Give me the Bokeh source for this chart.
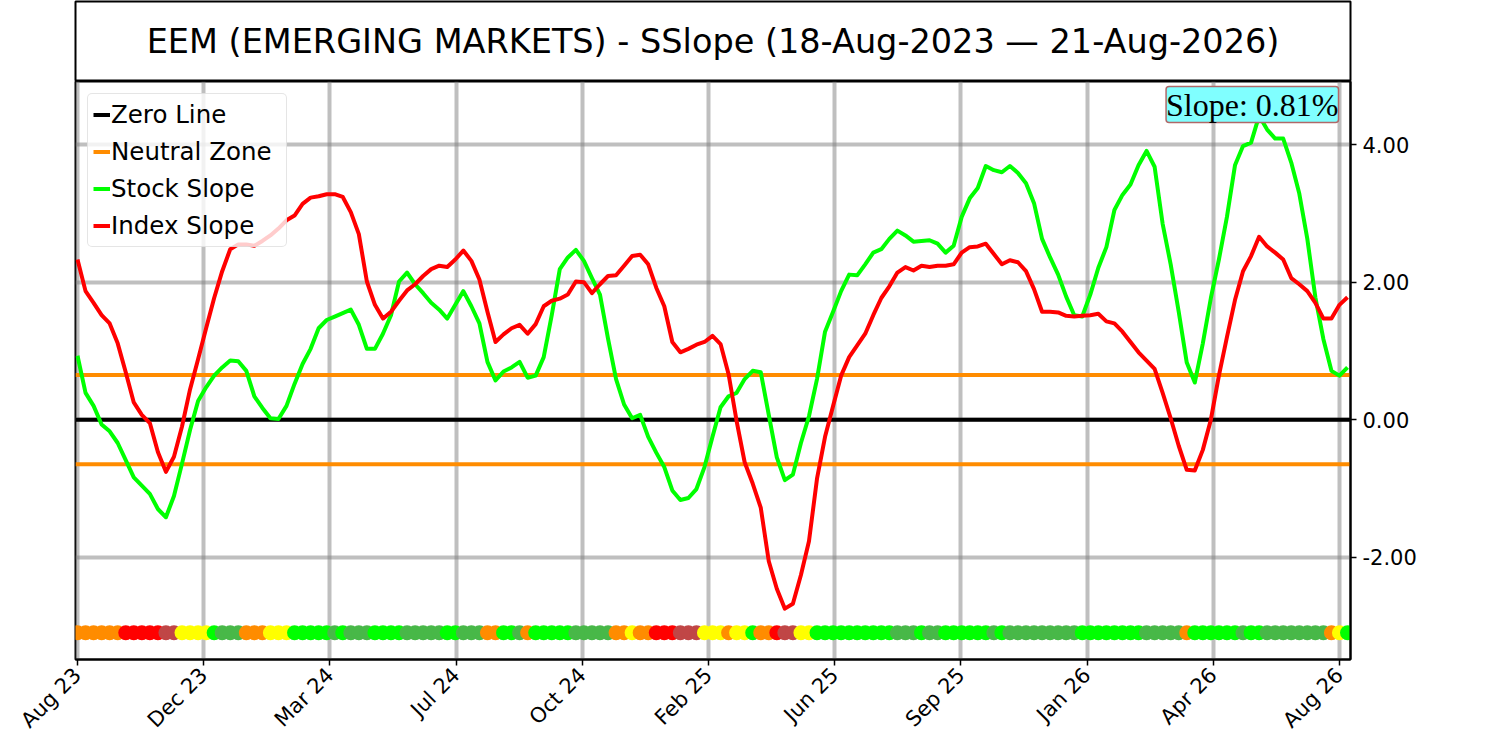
import numpy as np
import pandas as pd
from bokeh.plotting import figure
from bokeh.layouts import column
from bokeh.models import (Range1d, FixedTicker, PrintfTickFormatter,
                          Label, Legend, LegendItem, ColumnDataSource)
from bokeh.embed import file_html
from bokeh.resources import INLINE
import math

# ---------------- data ----------------
TITLE = "EEM (EMERGING MARKETS) - SSlope (18-Aug-2023 \u2014 21-Aug-2026)"
START_DATE = "2023-08-18"
LAST_LABEL_DATE = "2026-08-21"
XTICK_LABELS = ["Aug 23", "Dec 23", "Mar 24", "Jul 24", "Oct 24", "Feb 25",
                "Jun 25", "Sep 25", "Jan 26", "Apr 26", "Aug 26"]
Y_TICKS = [-2.0, 0.0, 2.0, 4.0]
ZERO_LEVEL = 0.0
NEUTRAL_LEVEL = 0.65
SIGNAL_LEVEL = -3.1
SLOPE_TEXT = "Slope: 0.81%"

index_slope = [
    2.33, 1.87, 1.70, 1.52, 1.40, 1.11, 0.69, 0.25, 0.07, -0.05,
    -0.47, -0.76, -0.54, -0.10, 0.44, 0.88, 1.33, 1.77, 2.16, 2.48,
    2.55, 2.55, 2.53, 2.60, 2.68, 2.78, 2.90, 2.97, 3.14, 3.23,
    3.25, 3.28, 3.28, 3.24, 3.02, 2.70, 2.01, 1.67, 1.47, 1.57,
    1.73, 1.88, 1.97, 2.09, 2.19, 2.24, 2.22, 2.33, 2.46, 2.31,
    2.04, 1.57, 1.13, 1.24, 1.33, 1.38, 1.25, 1.39, 1.65, 1.73,
    1.76, 1.82, 2.01, 2.00, 1.84, 1.97, 2.09, 2.10, 2.24, 2.38,
    2.40, 2.26, 1.92, 1.65, 1.13, 0.98, 1.03, 1.09, 1.13, 1.22,
    1.10, 0.66, -0.02, -0.62, -0.93, -1.28, -2.06, -2.46, -2.75, -2.68,
    -2.26, -1.77, -0.86, -0.25, 0.20, 0.64, 0.91, 1.08, 1.25, 1.52,
    1.77, 1.94, 2.14, 2.22, 2.17, 2.24, 2.22, 2.24, 2.24, 2.26,
    2.43, 2.51, 2.52, 2.56, 2.41, 2.26, 2.32, 2.29, 2.16, 1.90,
    1.57, 1.57, 1.56, 1.51, 1.50, 1.51, 1.52, 1.54, 1.43, 1.40,
    1.28, 1.13, 0.98, 0.86, 0.74, 0.39, 0.02, -0.38, -0.73, -0.74,
    -0.44, 0.00, 0.64, 1.20, 1.74, 2.16, 2.38, 2.66, 2.52, 2.43,
    2.33, 2.06, 1.97, 1.87, 1.70, 1.47, 1.47, 1.67, 1.78,
]

stock_slope = [
    0.93, 0.39, 0.20, -0.07, -0.17, -0.34, -0.59, -0.84, -0.96, -1.08,
    -1.30, -1.42, -1.11, -0.64, -0.15, 0.27, 0.47, 0.64, 0.76, 0.86,
    0.85, 0.71, 0.34, 0.17, 0.02, 0.01, 0.20, 0.52, 0.81, 1.03,
    1.33, 1.45, 1.50, 1.55, 1.60, 1.38, 1.03, 1.03, 1.25, 1.52,
    2.01, 2.14, 1.97, 1.84, 1.70, 1.60, 1.47, 1.67, 1.87, 1.65,
    1.40, 0.84, 0.57, 0.70, 0.76, 0.84, 0.61, 0.64, 0.91, 1.52,
    2.19, 2.36, 2.47, 2.31, 2.06, 1.82, 1.18, 0.59, 0.22, 0.02,
    0.07, -0.25, -0.48, -0.69, -1.03, -1.17, -1.14, -1.01, -0.69, -0.25,
    0.18, 0.34, 0.39, 0.59, 0.71, 0.69, 0.07, -0.55, -0.88, -0.80,
    -0.34, 0.05, 0.59, 1.28, 1.57, 1.87, 2.11, 2.10, 2.26, 2.43,
    2.48, 2.63, 2.75, 2.68, 2.59, 2.60, 2.61, 2.56, 2.43, 2.53,
    2.95, 3.22, 3.37, 3.69, 3.63, 3.60, 3.69, 3.59, 3.44, 3.15,
    2.63, 2.36, 2.11, 1.79, 1.52, 1.50, 1.82, 2.21, 2.51, 3.05,
    3.27, 3.42, 3.70, 3.91, 3.68, 2.85, 2.26, 1.57, 0.83, 0.54,
    1.11, 1.77, 2.33, 2.95, 3.70, 3.98, 4.03, 4.42, 4.22, 4.09,
    4.09, 3.74, 3.29, 2.63, 1.78, 1.17, 0.71, 0.64, 0.76,
]

# O=orange, R=red, D=dark red, Y=yellow, G=bright green, K=dark green
signal_states = list(
    "OOOOOO" "RRRRR" "DD" "YYYY" "G" "KKK" "OOO" "YYY" "GGGGG" "K" "G" "KKK"
    "GGGG" "KKKKK" "GG" "KKK" "OO" "GG" "K" "O" "GGGGG" "KKKKK" "OO" "Y" "OO"
    "RRR" "DDD" "YYY" "O" "YY" "G" "OO" "R" "DD" "YY" "GGGGGGGGGG" "KKK" "G"
    "KK" "GGGGGG" "K" "G" "KKKKKKKKK" "GGGGGGGG" "KKKKK" "O" "GGGGGG" "K" "GG"
    "KKKKKKKK" "O" "Y" "G"
)
STATE_COLORS = {"O": "#ff8c00", "R": "#ff0000", "D": "#c04646", "Y": "#ffff00",
                "G": "#00ff00", "K": "#48b848"}

# ---------------- build ----------------
N = len(stock_slope)
dates = pd.date_range(START_DATE, periods=N, freq="7D")
DAY_MS = 86400000.0
start_ms = pd.Timestamp(START_DATE).value / 1e6
end_ms = pd.Timestamp(LAST_LABEL_DATE).value / 1e6
xticks = [int(round(v)) for v in np.linspace(start_ms, end_ms, len(XTICK_LABELS))]
x_lo = start_ms - 1.75 * DAY_MS
x_hi = start_ms + 1108.6 * DAY_MS

FRAME_W = 1275
FONT = "DejaVu Sans"
BL, BR = 75, 140
LW = 4

# title box
t = figure(frame_width=FRAME_W, frame_height=80, x_range=Range1d(0, 1), y_range=Range1d(0, 1),
           x_axis_location=None, y_axis_location=None, output_backend="svg",
           toolbar_location=None, title=None, min_border_left=BL, min_border_right=BR,
           min_border_top=1, min_border_bottom=0)
t.grid.visible = False
t.outline_line_color = "black"
t.outline_line_width = 2
t.add_layout(Label(x=FRAME_W / 2, y=40, x_units="screen", y_units="screen", text=TITLE,
                   text_align="center", text_baseline="middle", text_font=FONT,
                   text_font_size="33.5px", text_color="black"))

# main chart
p = figure(x_axis_type="datetime", y_axis_location="right", frame_width=FRAME_W,
           frame_height=578, x_range=Range1d(x_lo, x_hi), y_range=Range1d(-3.49, 4.92),
           output_backend="svg", toolbar_location=None, title=None,
           min_border_left=BL, min_border_right=BR, min_border_top=0, min_border_bottom=74)
p.outline_line_color = "black"
p.outline_line_width = 2

p.xaxis.ticker = FixedTicker(ticks=xticks)
p.xaxis.major_label_overrides = {tk: lab for tk, lab in zip(xticks, XTICK_LABELS)}
p.xaxis.major_label_orientation = math.pi / 4
p.yaxis.ticker = FixedTicker(ticks=Y_TICKS)
p.yaxis.formatter = PrintfTickFormatter(format="%.2f")
for ax in (p.xaxis, p.yaxis):
    ax.major_label_text_font = FONT
    ax.major_label_text_font_size = "21px"
    ax.major_label_text_color = "black"
    ax.axis_line_color = "black"
    ax.axis_line_width = 2
    ax.major_tick_line_color = "black"
    ax.major_tick_line_width = 1.5
    ax.major_tick_in = 0
    ax.major_tick_out = 6
    ax.minor_tick_line_color = None
    ax.major_label_standoff = 6

p.grid.grid_line_color = "gray"
p.grid.grid_line_alpha = 0.5
p.grid.grid_line_width = 4

span_x = [x_lo, x_hi]
r_zero = p.line(span_x, [ZERO_LEVEL, ZERO_LEVEL], line_color="black", line_width=LW)
r_neu1 = p.line(span_x, [NEUTRAL_LEVEL, NEUTRAL_LEVEL], line_color="#ff8c00", line_width=LW)
r_neu2 = p.line(span_x, [-NEUTRAL_LEVEL, -NEUTRAL_LEVEL], line_color="#ff8c00", line_width=LW)

src = ColumnDataSource(dict(date=dates, stock=stock_slope, index=index_slope,
                            sig=[SIGNAL_LEVEL] * N,
                            color=[STATE_COLORS[s] for s in signal_states]))
r_stock = p.line("date", "stock", source=src, line_color="#00ff00", line_width=LW,
                 line_join="round")
r_index = p.line("date", "index", source=src, line_color="#ff0000", line_width=LW,
                 line_join="round")
p.scatter("date", "sig", source=src, size=15, fill_color="color", line_color=None)

legend = Legend(items=[LegendItem(label="Zero Line", renderers=[r_zero]),
                       LegendItem(label="Neutral Zone", renderers=[r_neu1]),
                       LegendItem(label="Stock Slope", renderers=[r_stock]),
                       LegendItem(label="Index Slope", renderers=[r_index])],
                location="top_left", margin=12, padding=5, spacing=6,
                glyph_width=17, glyph_height=31, label_height=31, label_width=170,
                label_standoff=1, label_text_font=FONT, label_text_font_size="24.5px",
                label_text_color="black",
                border_line_color="#cccccc", border_line_width=1.5,
                background_fill_alpha=0.8)
if "border_radius" in Legend.properties():
    legend.border_radius = 5
p.add_layout(legend)

slope_label = Label(x=1263, y=573, x_units="screen", y_units="screen", text=SLOPE_TEXT,
                    text_align="right", text_baseline="top", text_font="Liberation Serif",
                    text_font_size="32px", text_color="black",
                    background_fill_color="#80ffff", background_fill_alpha=1.0,
                    border_line_color="#b06868", border_line_width=1.5, padding=0)
if "border_radius" in Label.properties():
    slope_label.border_radius = 3
p.add_layout(slope_label)

layout = column(t, p)
open("out.html", "w").write(file_html(layout, INLINE))
